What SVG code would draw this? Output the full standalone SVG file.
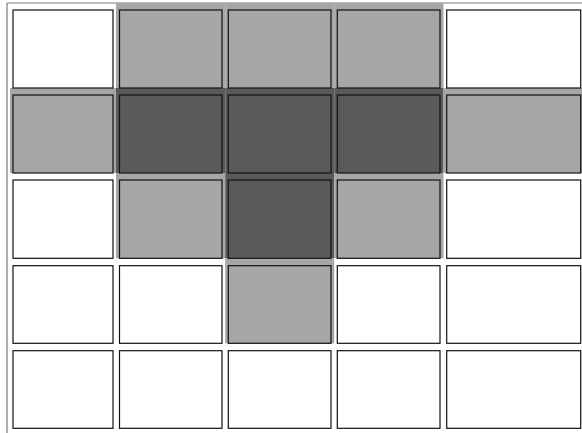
<svg xmlns="http://www.w3.org/2000/svg" width="582" height="433" viewBox="0 0 582 433">
<style>
.cell{stroke:#111;stroke-width:1.2;fill:#fff}
.l{fill:#a6a6a6}
.d{fill:#5a5a5a}
.bgl{fill:#a6a6a6}
.bgd{fill:#5a5a5a}
.frame{stroke:#7a7a7a;stroke-width:1.2;fill:none}
</style>
<rect width="582" height="433" fill="#fff"/>
<g id="frame">
<line class="frame" x1="7" y1="3" x2="582" y2="3"/>
<line class="frame" x1="7" y1="3" x2="7" y2="433"/>
</g>
<g id="highlights">
<rect class="bgl" x="116" y="3" width="109.2" height="85"/>
<rect class="bgl" x="225.2" y="3" width="109" height="85"/>
<rect class="bgl" x="334.2" y="3" width="109.3" height="85"/>
<rect class="bgl" x="10" y="88" width="106" height="85"/>
<rect class="bgd" x="116" y="88" width="109.2" height="85"/>
<rect class="bgd" x="225.2" y="88" width="109" height="85"/>
<rect class="bgd" x="334.2" y="88" width="109.3" height="85"/>
<rect class="bgl" x="443.5" y="88" width="138.5" height="85"/>
<rect class="bgl" x="116" y="173" width="109.2" height="85.3"/>
<rect class="bgd" x="225.2" y="173" width="109" height="85.3"/>
<rect class="bgl" x="334.2" y="173" width="109.3" height="85.3"/>
<rect class="bgl" x="225.2" y="258.3" width="109" height="85"/>
</g>
<g id="r1c1"><rect class="cell" x="13" y="10" width="100" height="78"/></g>
<g id="r1c2"><rect class="cell l" x="119.5" y="10" width="102.5" height="78"/></g>
<g id="r1c3"><rect class="cell l" x="228.3" y="10" width="102.7" height="78"/></g>
<g id="r1c4"><rect class="cell l" x="337.3" y="10" width="102.7" height="78"/></g>
<g id="r1c5"><rect class="cell" x="446.7" y="10" width="134" height="78"/></g>
<g id="r2c1"><rect class="cell l" x="13" y="95" width="100" height="78"/></g>
<g id="r2c2"><rect class="cell d" x="119.5" y="95" width="102.5" height="78"/></g>
<g id="r2c3"><rect class="cell d" x="228.3" y="95" width="102.7" height="78"/></g>
<g id="r2c4"><rect class="cell d" x="337.3" y="95" width="102.7" height="78"/></g>
<g id="r2c5"><rect class="cell l" x="446.7" y="95" width="134" height="78"/></g>
<g id="r3c1"><rect class="cell" x="13" y="180" width="100" height="78.3"/></g>
<g id="r3c2"><rect class="cell l" x="119.5" y="180" width="102.5" height="78.3"/></g>
<g id="r3c3"><rect class="cell d" x="228.3" y="180" width="102.7" height="78.3"/></g>
<g id="r3c4"><rect class="cell l" x="337.3" y="180" width="102.7" height="78.3"/></g>
<g id="r3c5"><rect class="cell" x="446.7" y="180" width="134" height="78.3"/></g>
<g id="r4c1"><rect class="cell" x="13" y="265.7" width="100" height="77.6"/></g>
<g id="r4c2"><rect class="cell" x="119.5" y="265.7" width="102.5" height="77.6"/></g>
<g id="r4c3"><rect class="cell l" x="228.3" y="265.7" width="102.7" height="77.6"/></g>
<g id="r4c4"><rect class="cell" x="337.3" y="265.7" width="102.7" height="77.6"/></g>
<g id="r4c5"><rect class="cell" x="446.7" y="265.7" width="134" height="77.6"/></g>
<g id="r5c1"><rect class="cell" x="13" y="350.7" width="100" height="77.6"/></g>
<g id="r5c2"><rect class="cell" x="119.5" y="350.7" width="102.5" height="77.6"/></g>
<g id="r5c3"><rect class="cell" x="228.3" y="350.7" width="102.7" height="77.6"/></g>
<g id="r5c4"><rect class="cell" x="337.3" y="350.7" width="102.7" height="77.6"/></g>
<g id="r5c5"><rect class="cell" x="446.7" y="350.7" width="134" height="77.6"/></g>
<g id="connectors"></g>
</svg>
